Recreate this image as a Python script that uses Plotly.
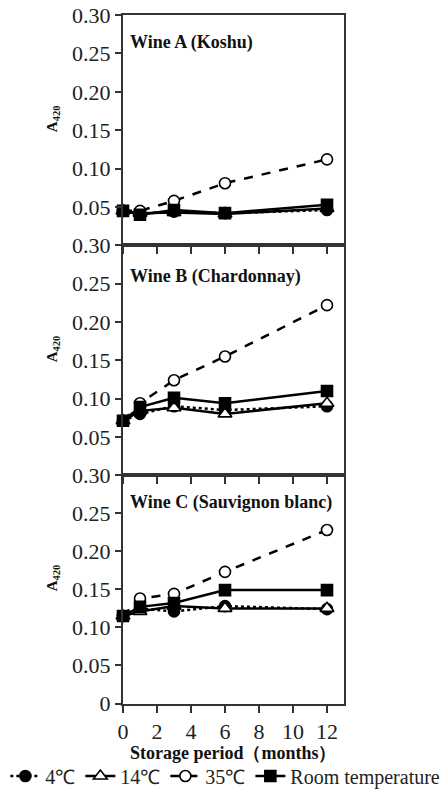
import plotly.graph_objects as go

# ---------------- data ----------------
months = [0, 1, 3, 6, 12]
temps = ["4℃", "14℃", "35℃", "Room temperature"]
wines = ["Wine A (Koshu)", "Wine B (Chardonnay)", "Wine C (Sauvignon blanc)"]

wineA_4C = [0.045, 0.041, 0.044, 0.042, 0.046]
wineA_14C = [0.045, 0.042, 0.043, 0.041, 0.048]
wineA_35C = [0.045, 0.045, 0.058, 0.081, 0.112]
wineA_RT = [0.045, 0.040, 0.046, 0.042, 0.053]

wineB_4C = [0.071, 0.080, 0.090, 0.085, 0.090]
wineB_14C = [0.071, 0.084, 0.088, 0.080, 0.094]
wineB_35C = [0.071, 0.094, 0.124, 0.155, 0.222]
wineB_RT = [0.071, 0.089, 0.101, 0.094, 0.110]

wineC_4C = [0.115, 0.125, 0.121, 0.128, 0.124]
wineC_14C = [0.115, 0.121, 0.128, 0.125, 0.125]
wineC_35C = [0.115, 0.138, 0.144, 0.173, 0.228]
wineC_RT = [0.115, 0.127, 0.132, 0.149, 0.149]

y_tickvals_top = [0.05, 0.10, 0.15, 0.20, 0.25, 0.30]
y_ticktext_top = ["0.05", "0.10", "0.15", "0.20", "0.25", "0.30"]
y_tickvals_bottom = [0, 0.05, 0.10, 0.15, 0.20, 0.25, 0.30]
y_ticktext_bottom = ["0", "0.05", "0.10", "0.15", "0.20", "0.25", "0.30"]
x_tickvals = [0, 2, 4, 6, 8, 10, 12]

# ---------------- styling ----------------
FONT = "Liberation Serif, Times New Roman, serif"
AXC = "#333333"
styles = [
    dict(dash="dot", symbol="circle", fill="black"),
    dict(dash="solid", symbol="triangle-up", fill="white"),
    dict(dash="dash", symbol="circle", fill="white"),
    dict(dash="solid", symbol="square", fill="black"),
]

data = [
    [wineA_4C, wineA_14C, wineA_35C, wineA_RT],
    [wineB_4C, wineB_14C, wineB_35C, wineB_RT],
    [wineC_4C, wineC_14C, wineC_35C, wineC_RT],
]

W, H = 446, 795
x_dom = [123 / W, 344 / W]
panel_px = [(15, 245.4), (245.4, 475.2), (475.2, 703.5)]
y_doms = [[1 - b / H, 1 - t / H] for t, b in panel_px]

fig = go.Figure()

for p, series in enumerate(data):
    xa = "x" if p == 0 else f"x{p+1}"
    ya = "y" if p == 0 else f"y{p+1}"
    for i, vals in enumerate(series):
        st = styles[i]
        fig.add_trace(go.Scatter(
            x=months, y=vals, xaxis=xa, yaxis=ya,
            mode="lines+markers",
            name=temps[i], legendgroup=temps[i], showlegend=(p == 0),
            line=dict(color="black", width=2.5, dash=st["dash"]),
            marker=dict(symbol=st["symbol"], size=11 if st["symbol"] != "triangle-up" else 12,
                        color=st["fill"], line=dict(color="black", width=1.6)),
            cliponaxis=False,
        ))

layout = dict(
    width=W, height=H,
    margin=dict(l=0, r=0, t=0, b=0, autoexpand=False),
    paper_bgcolor="white", plot_bgcolor="white",
    font=dict(family=FONT, size=22, color="#222222"),
    showlegend=True,
    legend=dict(
        orientation="h", x=0.012, xanchor="left", y=1 - 776 / H, yanchor="middle",
        font=dict(family=FONT, size=20, color="#222222"),
        itemwidth=30, tracegroupgap=0, bgcolor="rgba(0,0,0,0)",
    ),
)

for p in range(3):
    sfx = "" if p == 0 else str(p + 1)
    layout["xaxis" + sfx] = dict(
        domain=x_dom, range=[0, 13], anchor="y" + sfx,
        tickvals=x_tickvals, showticklabels=(p == 2),
        ticks="outside", ticklen=7, tickwidth=1.5, tickcolor=AXC,
        showline=True, linecolor=AXC, linewidth=2, mirror=True,
        showgrid=False, zeroline=False,
        tickfont=dict(family=FONT, size=22, color="#222222"),
    )
    layout["yaxis" + sfx] = dict(
        domain=y_doms[p], range=[0, 0.30], anchor="x" + sfx,
        tickvals=y_tickvals_bottom if p == 2 else y_tickvals_top,
        ticktext=y_ticktext_bottom if p == 2 else y_ticktext_top,
        ticks="outside", ticklen=6, tickwidth=1.5, tickcolor=AXC,
        showline=True, linecolor=AXC, linewidth=2, mirror=True,
        showgrid=False, zeroline=False,
        tickfont=dict(family=FONT, size=22, color="#222222"),
    )

fig.update_layout(**layout)

title_shift = [-27.5, -31.5, -27]
for p in range(3):
    sfx = "" if p == 0 else str(p + 1)
    fig.add_annotation(
        text=f"<b>{wines[p]}</b>", xref=f"x{sfx} domain", yref=f"y{sfx} domain",
        x=0, y=1, xanchor="left", yanchor="middle", xshift=5, yshift=title_shift[p],
        showarrow=False, font=dict(family=FONT, size=18, color="#111111"),
    )
    fig.add_annotation(
        text="<b>A<sub>420</sub></b>", xref="paper", yref=f"y{sfx} domain",
        x=53 / W, y=0.5, xanchor="center", yanchor="middle", yshift=11,
        textangle=-90, showarrow=False,
        font=dict(family=FONT, size=15, color="#111111"),
    )

fig.add_annotation(
    text="<b>Storage period（months）</b>", xref="paper", yref="paper",
    x=(123 + 344) / 2 / W, y=1 - 753 / H, xanchor="center", yanchor="middle",
    showarrow=False, font=dict(family=FONT, size=18, color="#111111"),
)

fig.write_html("out.html")
